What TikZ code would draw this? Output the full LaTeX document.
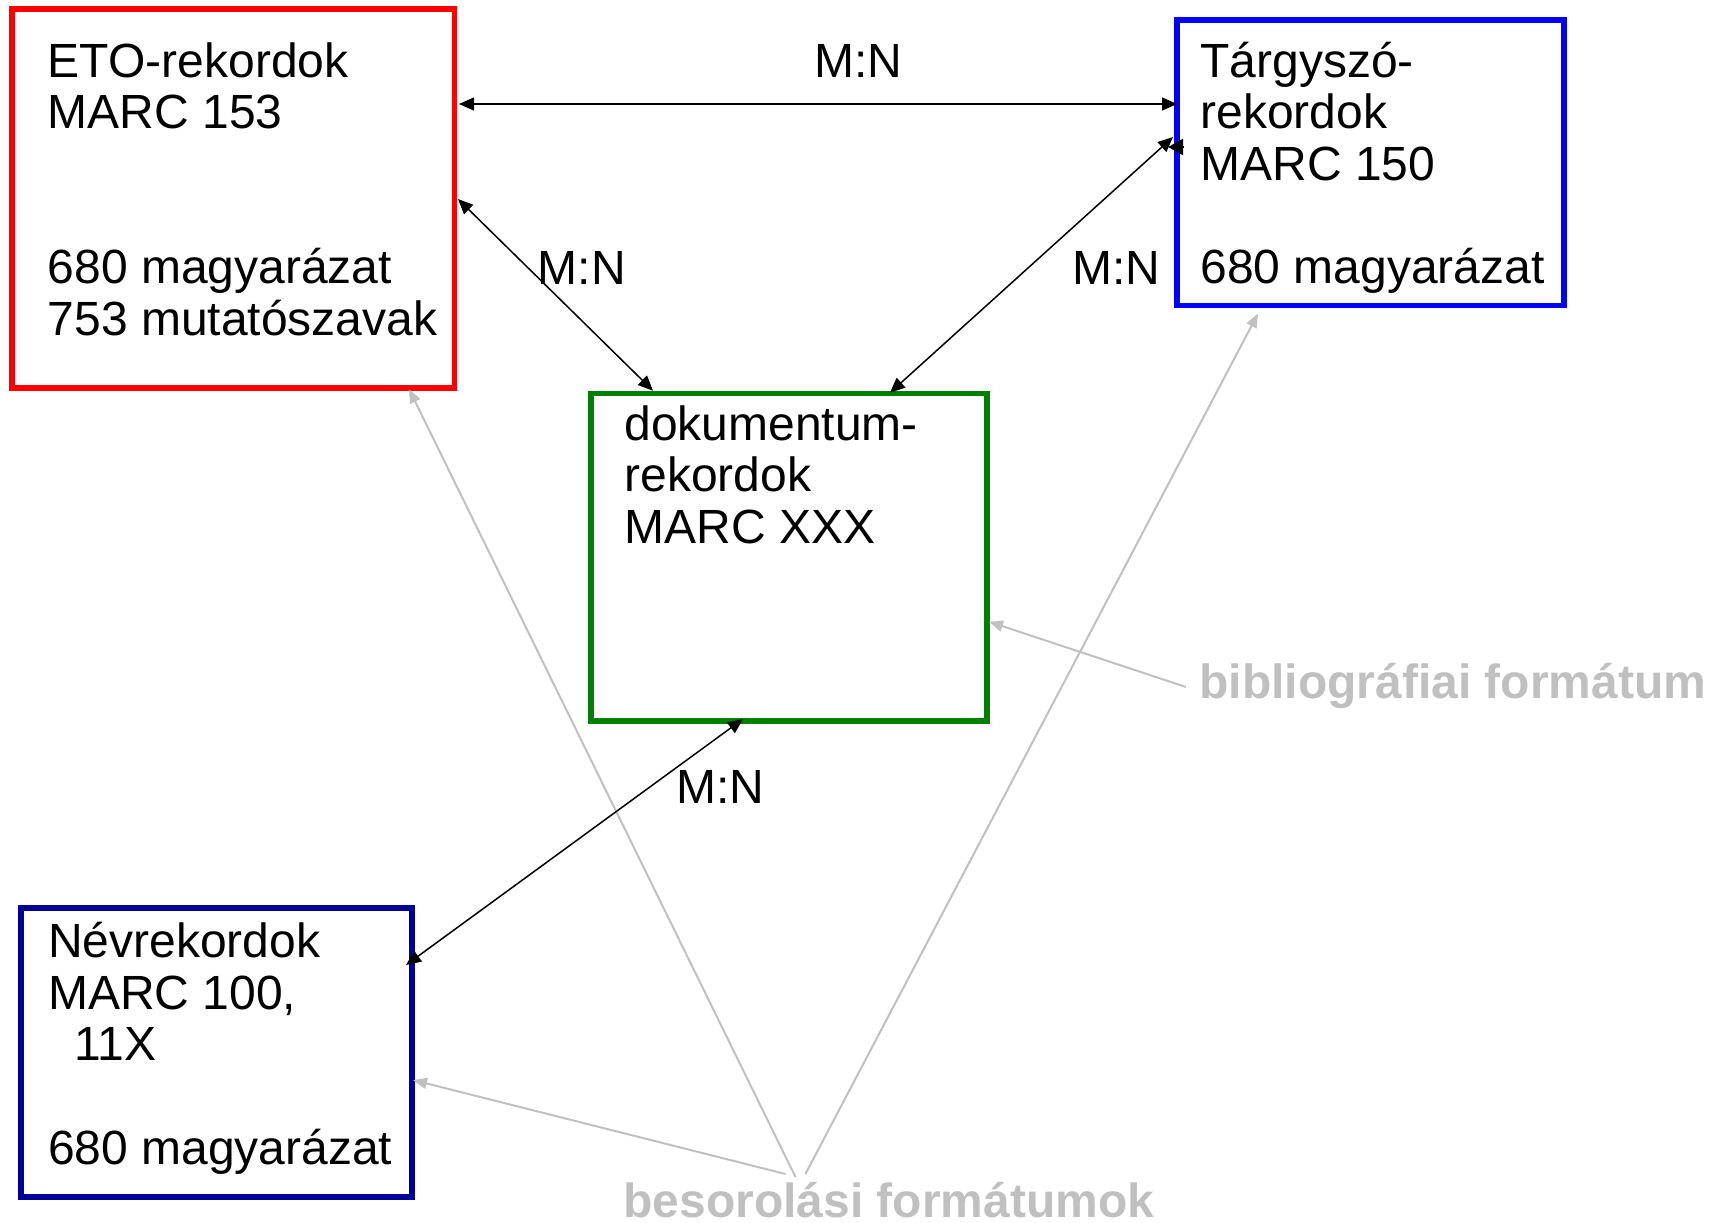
\documentclass[tikz,border=0pt]{standalone}
\usepackage{fontspec}
\setmainfont{Liberation Sans}
\usetikzlibrary{arrows.meta,calc,fit}
\definecolor{boxred}{RGB}{255,0,0}
\definecolor{boxblue}{RGB}{0,0,255}
\definecolor{boxgreen}{RGB}{0,128,0}
\definecolor{boxnavy}{RGB}{0,0,153}
\definecolor{hintgray}{RGB}{192,192,192}
\begin{document}
\begin{tikzpicture}[x=0.5pt,y=-0.5pt,
  box/.style={draw, line width=2.75pt, inner sep=0pt, outer sep=0pt},
  txt/.style={anchor=base west, inner sep=0pt, font=\fontsize{24}{25.8}\selectfont},
  rel/.style={anchor=base, inner sep=0pt, font=\fontsize{24}{25.8}\selectfont},
  note/.style={anchor=base west, inner sep=0pt, text depth=0pt, text=hintgray, font=\fontsize{24}{25.8}\selectfont\bfseries},
  conn/.style={line width=0.75pt, {Triangle[length=7.5pt,width=6.5pt]}-{Triangle[length=7.5pt,width=6.5pt]}},
  hint/.style={draw=hintgray, line width=1pt, -{Triangle[length=7pt,width=5.5pt]}},
]
\useasboundingbox (0,0) rectangle (1718,1222);

% gray hint labels and start points
\node[note] (bes) at (623,1217.5) {besorolási formátumok};
\node[note] (bib) at (1199,698) {bibliográfiai formátum};
\coordinate (b1) at (785.6,1174);
\coordinate (b2) at (795.5,1177);
\coordinate (b3) at (805.4,1174);
\coordinate (c1) at (1186,687);

% boxes
\node[box, draw=boxred,   fit={(12,9) (454.5,388)}]     (eto) {};
\node[box, draw=boxblue,  fit={(1177,20) (1564,305.5)}] (tar) {};
\node[box, draw=boxgreen, fit={(591,393.7) (987,721)}]  (dok) {};
\node[box, draw=boxnavy,  fit={(21,908) (412,1197)}]    (nev) {};

\draw[hint] (b1) -- ($(nev.north east)+(1,172)$);
\draw[hint] (b2) -- ($(eto.south west)+(397,1)$);
\draw[hint] (b3) -- ($(tar.south west)+(81,8)$);
\draw[hint] (c1) -- ($(dok.north east)+(2,228)$);

% box texts
\node[txt] (etotxt) at (47.5,77) {\vtop{\hbox{ETO-rekordok}\hbox{MARC 153}\hbox{}\hbox{}\hbox{680 magyarázat}\hbox{753 mutatószavak}}};
\node[txt] (tartxt) at (1200,77.3) {\vtop{\hbox{Tárgyszó-}\hbox{rekordok}\hbox{MARC 150}\hbox{}\hbox{680 magyarázat}}};
\node[txt] (doktxt) at (624,440) {\vtop{\hbox{dokumentum-}\hbox{rekordok}\hbox{MARC XXX}}};
\node[txt] (nevtxt) at (47.7,957.7) {\vtop{\hbox{Névrekordok}\hbox{MARC 100,}\hbox{\ \ 11X}\hbox{}\hbox{680 magyarázat}}};

% relation labels
\node[rel] (mn1) at (858.5,77) {M:N};
\node[rel] (mn2) at (581.7,284) {M:N};
\node[rel] (mn3) at (1116,284) {M:N};
\node[rel] (mn4) at (720,803) {M:N};

% black connectors
\draw[conn] ($(eto.north east)+(4.5,95)$) -- ($(tar.north west)+(0,84)$);
\draw[conn] ($(eto.north east)+(3.5,190)$) -- ($(dok.north west)+(62,-3)$);
\draw[conn] ($(tar.north west)+(-4,117)$) -- ($(dok.north west)+(299,-1)$);
\draw[conn] ($(dok.south west)+(152,-2)$) -- ($(nev.north east)+(-6,57)$);
\draw[line width=0.75pt, -{Triangle[length=7.5pt,width=8pt]}] ($(tar.north west)+(7,127)$) -- ($(tar.north west)+(-9,127)$);
\end{tikzpicture}
\end{document}
